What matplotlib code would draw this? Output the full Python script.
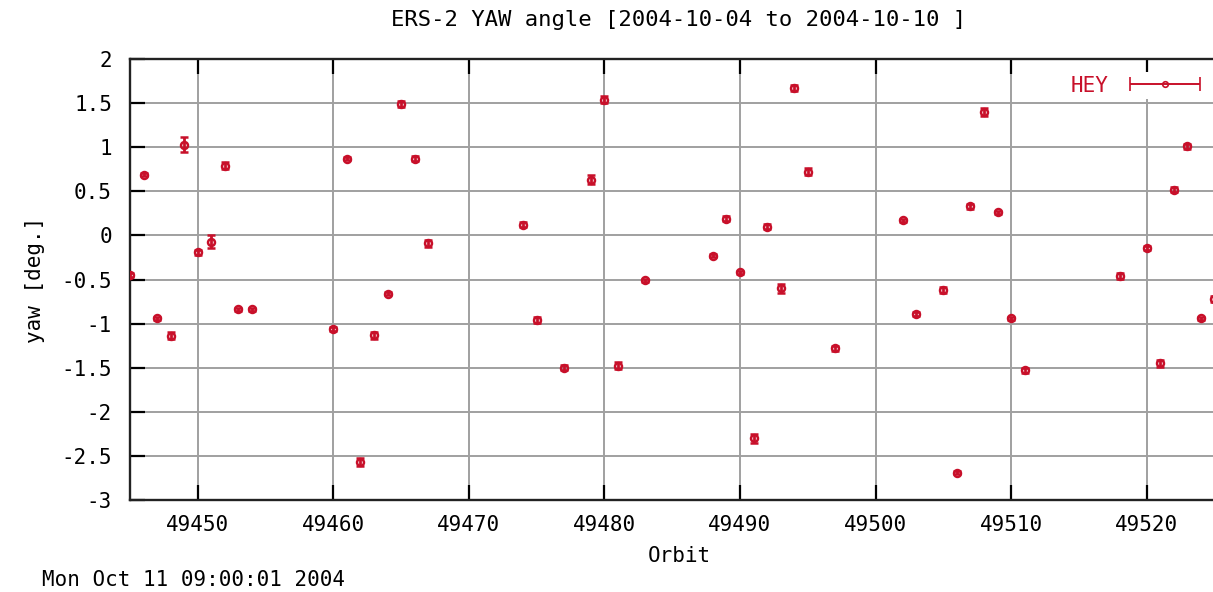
import numpy as np
import matplotlib
matplotlib.use("Agg")
from matplotlib import pyplot as plt
from matplotlib.ticker import FuncFormatter, MultipleLocator
from matplotlib.legend_handler import HandlerErrorbar

# orbit numbers and yaw angle
orbit = [49445, 49446, 49447, 49448, 49449, 49450, 49451, 49452, 49453, 49454,
         49460, 49461, 49462, 49463, 49464, 49465, 49466, 49467, 49474, 49475,
         49477, 49479, 49480, 49481, 49483, 49488, 49489, 49490, 49491, 49492,
         49493, 49494, 49495, 49497, 49502, 49503, 49505, 49506, 49507, 49508,
         49509, 49510, 49511, 49518, 49520, 49521, 49522, 49523, 49524, 49525]
yaw = [-0.45, 0.69, -0.94, -1.14, 1.03, -0.19, -0.07, 0.79, -0.84, -0.84,
       -1.06, 0.87, -2.57, -1.13, -0.66, 1.49, 0.87, -0.09, 0.12, -0.96,
       -1.50, 0.63, 1.54, -1.48, -0.51, -0.23, 0.19, -0.42, -2.30, 0.10,
       -0.60, 1.67, 0.72, -1.28, 0.17, -0.89, -0.62, -2.69, 0.33, 1.40,
       0.26, -0.94, -1.53, -0.46, -0.14, -1.45, 0.52, 1.01, -0.94, -0.72]
yaw_err = [0.02, 0.02, 0.02, 0.04, 0.08, 0.03, 0.07, 0.04, 0.02, 0.02,
           0.02, 0.02, 0.05, 0.04, 0.02, 0.03, 0.03, 0.04, 0.03, 0.03,
           0.03, 0.05, 0.04, 0.04, 0.02, 0.02, 0.03, 0.02, 0.05, 0.03,
           0.05, 0.03, 0.04, 0.03, 0.02, 0.02, 0.03, 0.02, 0.03, 0.05,
           0.02, 0.02, 0.03, 0.03, 0.02, 0.04, 0.03, 0.03, 0.02, 0.03]

title = "ERS-2 YAW angle [2004-10-04 to 2004-10-10 ]"
stamp = "Mon Oct 11 09:00:01 2004"

red = "#c8102a"
plt.rcParams['font.family'] = ['DejaVu Sans Mono']
plt.rcParams['axes.unicode_minus'] = False
fs = 15

W, H = 1213, 592
fig = plt.figure(figsize=(W / 100, H / 100), dpi=100)
# plot area runs past the right edge of the picture, like the cropped original
ax = fig.add_axes([130 / W, 92 / H, 1098 / W, 441 / H])

ax.errorbar(orbit, yaw, yerr=yaw_err, fmt='o', color=red, ms=5, mfc='none',
            mew=1.8, elinewidth=2.0, capsize=3, capthick=2.0, zorder=3)
# proxy only for the horizontal legend sample
ax.errorbar([np.nan], [np.nan], xerr=[1], fmt='o', color=red, ms=4, mfc='none',
            mew=1.2, elinewidth=1.4, capsize=5, capthick=1.4, label='HEY')

ax.set_xlim(49445, 49526)
ax.set_ylim(-3, 2)
ax.xaxis.set_major_locator(MultipleLocator(10))
ax.yaxis.set_major_locator(MultipleLocator(0.5))
ax.yaxis.set_major_formatter(FuncFormatter(lambda v, p: '%g' % v))
ax.grid(True, color='#a0a0a0', lw=1.4)
ax.set_axisbelow(True)
ax.tick_params(axis='x', direction='in', length=11, width=1.6, top=True,
               labelsize=fs, pad=11)
ax.tick_params(axis='y', direction='in', length=11, width=1.6, right=True,
               labelsize=fs, pad=13)
for s in ax.spines.values():
    s.set_linewidth(1.7)
    s.set_color('#222222')

ax.set_xlabel('Orbit', fontsize=fs, labelpad=8)
ax.set_ylabel('yaw [deg.]', fontsize=fs, labelpad=12)
ax.set_title(title, fontsize=16, pad=24)

leg = ax.legend(loc='upper right', bbox_to_anchor=(1214 / W, 1 - 62 / H),
                bbox_transform=fig.transFigure, markerfirst=False, fontsize=fs,
                handlelength=3.4, handletextpad=1.0, frameon=True,
                fancybox=False, borderpad=0.15,
                handler_map={type(ax.containers[-1]): HandlerErrorbar(xerr_size=1.7)})
leg.get_frame().set_edgecolor('none')
leg.get_frame().set_facecolor('white')
leg.get_frame().set_alpha(1)
for t in leg.get_texts():
    t.set_color(red)

fig.text(42 / W, 1 - 580 / H, stamp, fontsize=fs, va='center', ha='left')

fig.savefig('out.png', dpi=100)
